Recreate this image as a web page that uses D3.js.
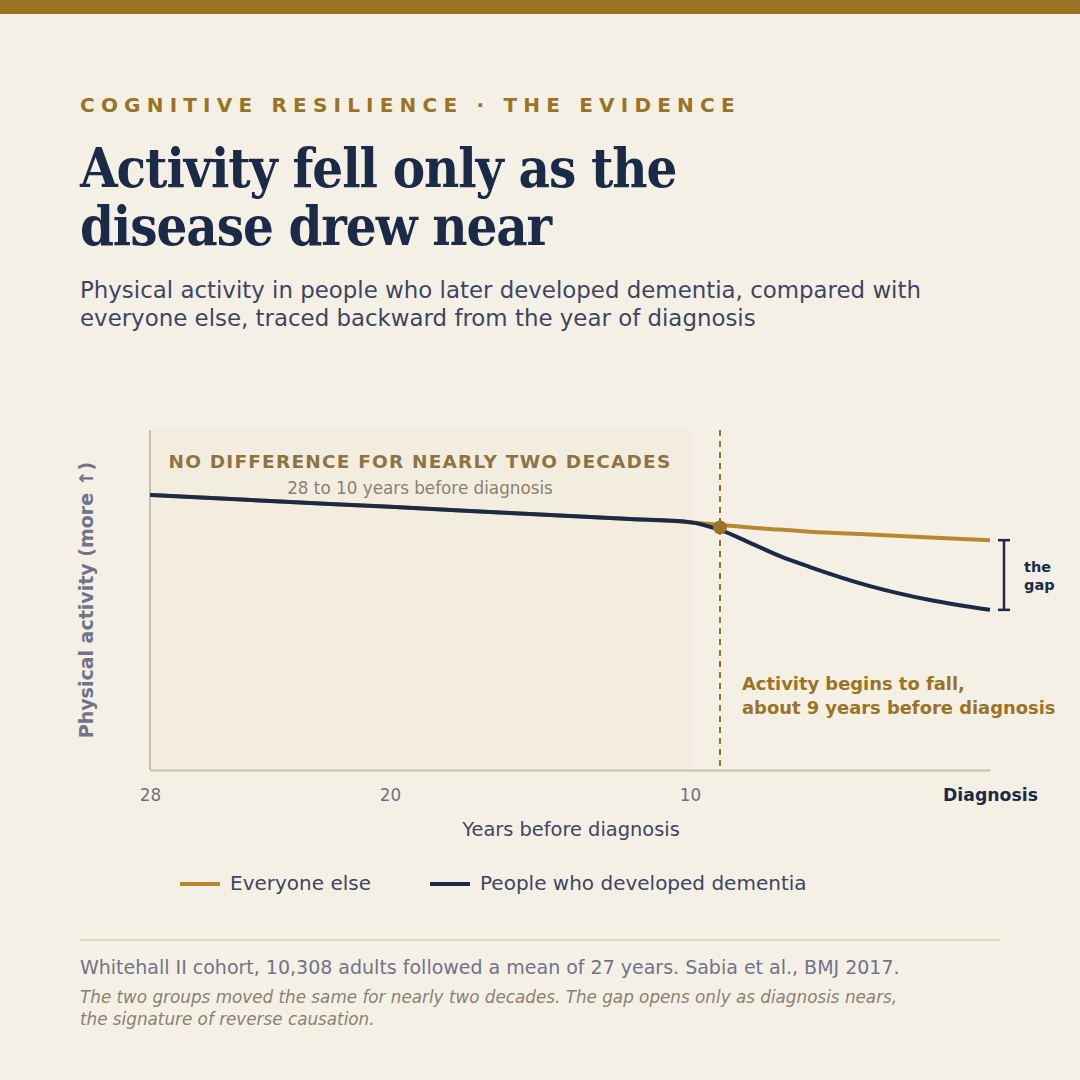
<!DOCTYPE html>
<html><head><meta charset="utf-8">
<script src="https://cdn.jsdelivr.net/npm/d3@7"></script>
<style>
html,body{margin:0;padding:0;background:#f5f0e6;}
svg{display:block;}
</style></head>
<body>
<svg id="c" width="1080" height="1080"></svg>
<script>
// ---- data ----
const years = [28, 24, 20, 16, 12, 10, 9, 8, 7, 6, 4, 2, 0];
const everyoneElse = [80.9, 79.1, 77.4, 75.6, 73.8, 72.9, 72.1, 71.3, 70.7, 70.1, 69.3, 68.4, 67.6];
const dementia     = [80.9, 79.1, 77.4, 75.6, 73.8, 72.9, 70.6, 66.8, 62.9, 59.7, 54.1, 50.0, 47.1];
const tickYears = [28, 20, 10, 0];
const tickLabels = ["28", "20", "10", "Diagnosis"];
const seriesNames = ["Everyone else", "People who developed dementia"];
const divergeYear = 9;
const plateauRange = [28, 10];

const C = {bg:"#f5f0e6", gold:"#9a7424", orange:"#b8862e", navy:"#1b2a47", grey:"#6b7182", slate:"#3d4660", shade:"#f3ede0", axis:"#c9bea3"};
const svg = d3.select("#c");
const sans = "'DejaVu Sans', sans-serif";

svg.append("rect").attr("width",1080).attr("height",1080).attr("fill",C.bg);
svg.append("rect").attr("width",1080).attr("height",14).attr("fill",C.gold);

// header
svg.append("text").attr("x",80).attr("y",112).text("COGNITIVE RESILIENCE · THE EVIDENCE")
  .attr("font-family",sans).attr("font-weight","bold").attr("font-size",20)
  .attr("letter-spacing",6.2).attr("fill",C.gold);
const title = svg.append("text").attr("font-family","'DejaVu Serif Condensed', 'DejaVu Serif', serif").attr("font-stretch","condensed").attr("font-weight","bold")
  .attr("font-size",54).attr("fill",C.navy).attr("letter-spacing",-1.1);
["Activity fell only as the","disease drew near"].forEach((t,i)=>
  title.append("tspan").attr("x",80).attr("y",187+i*58).text(t));
const sub = svg.append("text").attr("font-family",sans).attr("font-size",22.9).attr("fill",C.slate);
["Physical activity in people who later developed dementia, compared with","everyone else, traced backward from the year of diagnosis"].forEach((t,i)=>
  sub.append("tspan").attr("x",80).attr("y",298+i*28).text(t));

// scales
const x = d3.scaleLinear().domain([28,0]).range([150,990]);
const y = d3.scaleLinear().domain([0,100]).range([770,430]);

// shaded plateau
svg.append("rect").attr("x",x(plateauRange[0])).attr("y",430)
  .attr("width",x(plateauRange[1])-x(plateauRange[0])).attr("height",340).attr("fill",C.shade);

// axes
svg.append("line").attr("x1",150).attr("x2",150).attr("y1",430).attr("y2",770).attr("stroke",C.axis).attr("stroke-width",2);
const xAxis = svg.append("g").attr("transform","translate(0,770)")
  .call(d3.axisBottom(x).tickValues(tickYears).tickSize(0).tickPadding(19).tickFormat((d,i)=>tickLabels[i]));
xAxis.select(".domain").attr("stroke",C.axis).attr("stroke-width",2);
xAxis.selectAll("text").attr("font-family",sans).attr("font-size",16.8).attr("fill",C.grey)
  .filter(d=>d===0).attr("fill",C.navy).attr("font-weight","bold").attr("font-size",17.3);

// plateau label
svg.append("text").attr("x",420).attr("y",468).attr("text-anchor","middle").text("NO DIFFERENCE FOR NEARLY TWO DECADES")
  .attr("font-family",sans).attr("font-weight","bold").attr("font-size",18.5).attr("letter-spacing",1.2).attr("fill","#8c7444");
svg.append("text").attr("x",420).attr("y",494).attr("text-anchor","middle").text("28 to 10 years before diagnosis")
  .attr("font-family",sans).attr("font-size",16.8).attr("fill","#8a8070");

// divergence line
svg.append("line").attr("x1",x(divergeYear)).attr("x2",x(divergeYear)).attr("y1",430).attr("y2",768)
  .attr("stroke",C.gold).attr("stroke-width",2).attr("stroke-dasharray","6,5");

// lines
const line = d3.line().x((d,i)=>x(years[i])).y(d=>y(d)).curve(d3.curveMonotoneX);
svg.append("path").datum(everyoneElse).attr("d",line).attr("fill","none").attr("stroke",C.orange).attr("stroke-width",4);
svg.append("path").datum(dementia).attr("d",line).attr("fill","none").attr("stroke",C.navy).attr("stroke-width",4);

// dot
const di = years.indexOf(divergeYear);
svg.append("circle").attr("cx",x(divergeYear)).attr("cy",y((everyoneElse[di]+dementia[di])/2)).attr("r",7).attr("fill",C.gold);

// gap bracket
const gx = 1004, gy1 = y(everyoneElse[everyoneElse.length-1]), gy2 = y(dementia[dementia.length-1]);
const br = svg.append("g").attr("stroke",C.navy).attr("stroke-width",2.5);
br.append("line").attr("x1",gx).attr("x2",gx).attr("y1",gy1).attr("y2",gy2);
br.append("line").attr("x1",gx-6).attr("x2",gx+6).attr("y1",gy1).attr("y2",gy1);
br.append("line").attr("x1",gx-6).attr("x2",gx+6).attr("y1",gy2).attr("y2",gy2);
const gt = svg.append("text").attr("font-family",sans).attr("font-weight","bold").attr("font-size",14.5).attr("fill",C.navy);
["the","gap"].forEach((t,i)=>gt.append("tspan").attr("x",1024).attr("y",572+i*18).text(t));

// annotation
const an = svg.append("text").attr("font-family",sans).attr("font-weight","bold").attr("font-size",17.9).attr("fill",C.gold);
["Activity begins to fall,","about 9 years before diagnosis"].forEach((t,i)=>an.append("tspan").attr("x",742).attr("y",690+i*24).text(t));

// y label
svg.append("text").attr("transform","translate(93,600) rotate(-90)").attr("text-anchor","middle")
  .text("Physical activity (more ↑)").attr("font-family",sans).attr("font-weight","bold").attr("font-size",19).attr("fill","#6f7488");

// x title
svg.append("text").attr("x",571).attr("y",836).attr("text-anchor","middle").text("Years before diagnosis")
  .attr("font-family",sans).attr("font-size",19.4).attr("fill",C.slate);

// legend
const lg = [{n:seriesNames[0],c:C.orange,x:180},{n:seriesNames[1],c:C.navy,x:430}];
lg.forEach(d=>{
  svg.append("line").attr("x1",d.x).attr("x2",d.x+40).attr("y1",884).attr("y2",884).attr("stroke",d.c).attr("stroke-width",4);
  svg.append("text").attr("x",d.x+50).attr("y",890).text(d.n).attr("font-family",sans).attr("font-size",20).attr("fill",C.slate);
});

// footer
svg.append("line").attr("x1",80).attr("x2",1000).attr("y1",940).attr("y2",940).attr("stroke","#e2d9c6").attr("stroke-width",2);
svg.append("text").attr("x",80).attr("y",974).text("Whitehall II cohort, 10,308 adults followed a mean of 27 years. Sabia et al., BMJ 2017.")
  .attr("font-family",sans).attr("font-size",19).attr("fill","#6f7488");
const ft = svg.append("text").attr("font-family",sans).attr("font-style","italic").attr("font-size",16.8).attr("fill","#8a8070");
["The two groups moved the same for nearly two decades. The gap opens only as diagnosis nears,","the signature of reverse causation."]
  .forEach((t,i)=>ft.append("tspan").attr("x",80).attr("y",1003+i*22).text(t));
</script>
</body></html>
